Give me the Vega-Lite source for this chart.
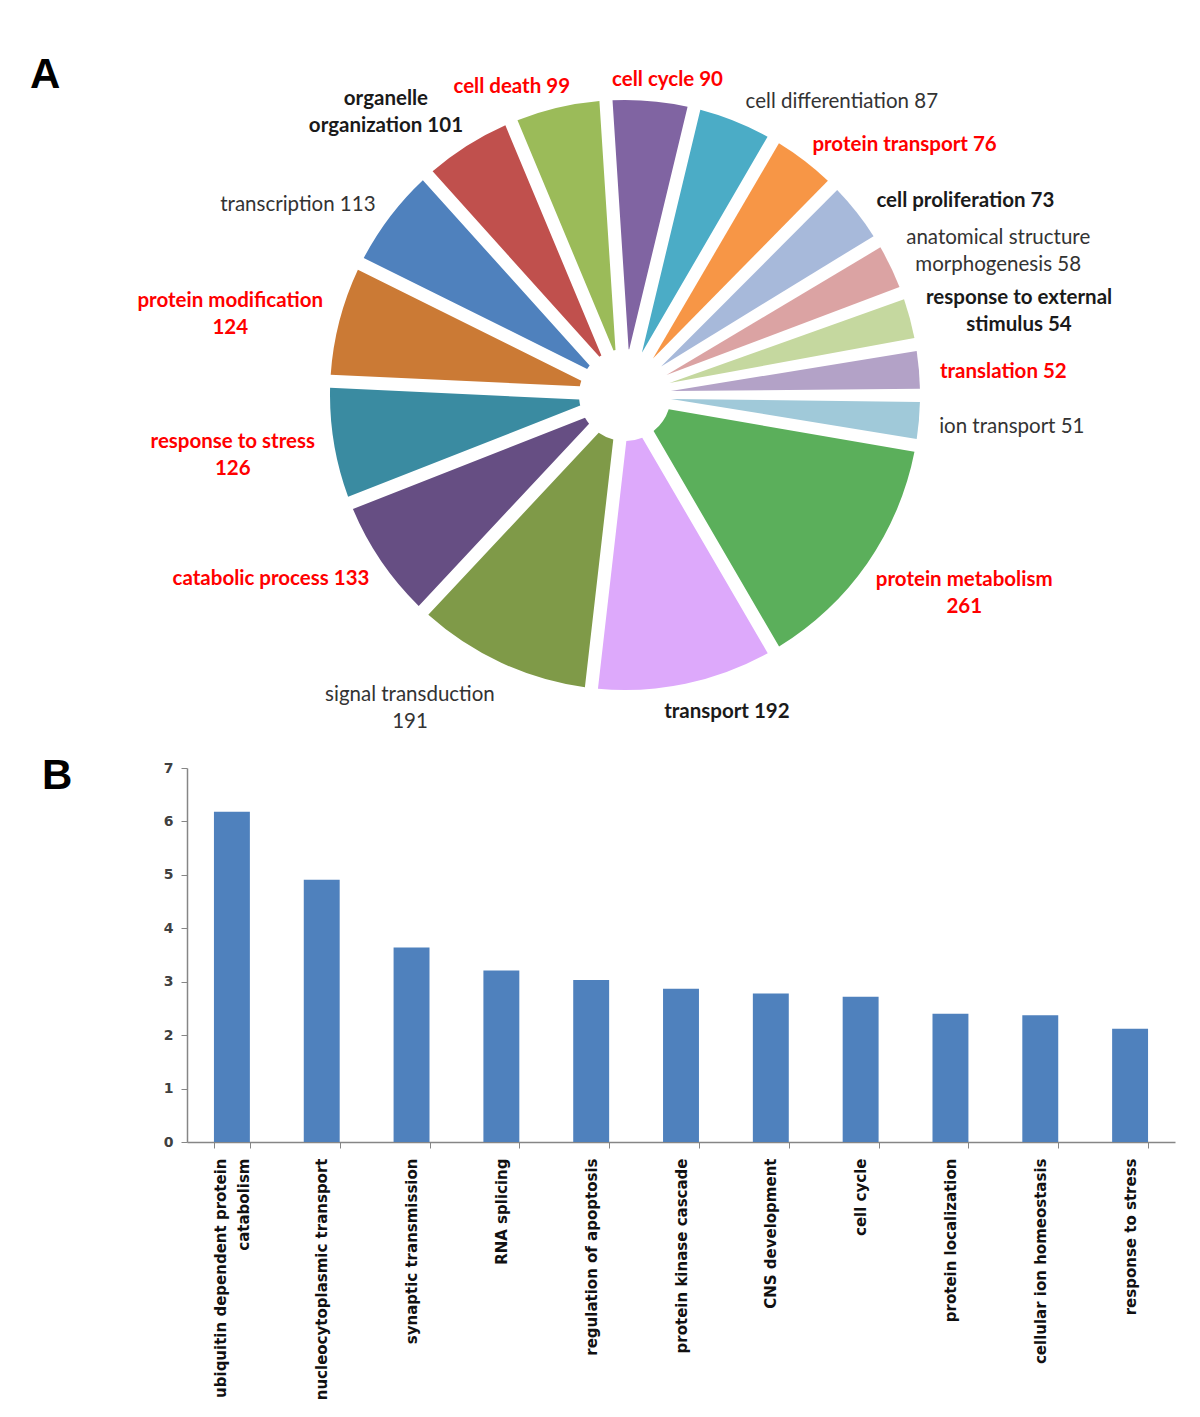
{
  "$schema": "https://vega.github.io/schema/vega-lite/v6.json",
  "background": "white",
  "padding": {"left": 30, "top": 54, "right": 5, "bottom": 5},
  "spacing": 20,
  "config": {"view": {"stroke": null}},
  "datasets": {
    "pie": [
      {"category": "protein metabolism", "count": 261, "label": "protein metabolism\n261", "emphasis": "highlight"},
      {"category": "transport", "count": 192, "label": "transport 192", "emphasis": "bold"},
      {"category": "signal transduction", "count": 191, "label": "signal transduction\n191", "emphasis": "plain"},
      {"category": "catabolic process", "count": 133, "label": "catabolic process 133", "emphasis": "highlight"},
      {"category": "response to stress", "count": 126, "label": "response to stress\n126", "emphasis": "highlight"},
      {"category": "protein modification", "count": 124, "label": "protein modification\n124", "emphasis": "highlight"},
      {"category": "transcription", "count": 113, "label": "transcription 113", "emphasis": "plain"},
      {"category": "organelle organization", "count": 101, "label": "organelle\norganization 101", "emphasis": "bold"},
      {"category": "cell death", "count": 99, "label": "cell death 99", "emphasis": "highlight"},
      {"category": "cell cycle", "count": 90, "label": "cell cycle 90", "emphasis": "highlight"},
      {"category": "cell differentiation", "count": 87, "label": "cell differentiation 87", "emphasis": "plain"},
      {"category": "protein transport", "count": 76, "label": "protein transport 76", "emphasis": "highlight"},
      {"category": "cell proliferation", "count": 73, "label": "cell proliferation 73", "emphasis": "bold"},
      {"category": "anatomical structure morphogenesis", "count": 58, "label": "anatomical structure\nmorphogenesis 58", "emphasis": "plain"},
      {"category": "response to external stimulus", "count": 54, "label": "response to external\nstimulus 54", "emphasis": "bold"},
      {"category": "translation", "count": 52, "label": "translation 52", "emphasis": "highlight"},
      {"category": "ion transport", "count": 51, "label": "ion transport 51", "emphasis": "plain"}
    ],
    "bars": [
      {"process": "ubiquitin dependent protein catabolism", "value": 6.18},
      {"process": "nucleocytoplasmic transport", "value": 4.91},
      {"process": "synaptic transmission", "value": 3.64},
      {"process": "RNA splicing", "value": 3.21},
      {"process": "regulation of apoptosis", "value": 3.03},
      {"process": "protein kinase cascade", "value": 2.87},
      {"process": "CNS development", "value": 2.78},
      {"process": "cell cycle", "value": 2.72},
      {"process": "protein localization", "value": 2.4},
      {"process": "cellular ion homeostasis", "value": 2.37},
      {"process": "response to stress", "value": 2.12}
    ]
  },
  "vconcat": [
    {
      "width": 876,
      "height": 680,
      "title": {"text": "A", "anchor": "start", "frame": "group", "fontSize": 42, "fontWeight": "bold", "font": "Liberation Sans", "color": "#000000", "dx": -157, "dy": 75, "baseline": "alphabetic", "offset": 0},
      "data": {"name": "pie"},
      "encoding": {
        "theta": {"field": "count", "type": "quantitative", "stack": true, "scale": {"range": [1.7425, 8.0257]}},
        "order": {"field": "count", "type": "quantitative", "sort": "descending"}
      },
      "layer": [
        {
          "mark": {"type": "arc", "outerRadius": 295, "innerRadius": 46, "padAngle": 0.044},
          "encoding": {
            "color": {
              "field": "category", "type": "nominal", "legend": null,
              "scale": {
                "domain": ["protein metabolism", "transport", "signal transduction", "catabolic process", "response to stress", "protein modification", "transcription", "organelle organization", "cell death", "cell cycle", "cell differentiation", "protein transport", "cell proliferation", "anatomical structure morphogenesis", "response to external stimulus", "translation", "ion transport"],
                "range": ["#5BAF5B", "#DDA9FB", "#7F9A48", "#664E83", "#3A8BA1", "#CB7A35", "#4F81BD", "#C0504D", "#9BBB59", "#8064A2", "#4BACC6", "#F79646", "#A7B9DA", "#DBA3A3", "#C5D89F", "#B3A2C7", "#A0C9D9"]
              }
            }
          }
        },
        {
          "transform": [{"joinaggregate": [{"op": "sum", "field": "count", "as": "total"}]}],
          "mark": {
            "type": "text", "radius": 320, "font": "Lato", "fontSize": 20.5, "lineBreak": "\n", "lineHeight": 27,
            "align": "center", "baseline": "middle",
            "dx": {"expr": "clamp(3.2*sin(1.7425 + PI*(datum.count_start + datum.count_end)/datum.total), -1, 1) * (indexof(datum.label, '\\n') >= 0 ? max(indexof(datum.label, '\\n'), length(datum.label) - indexof(datum.label, '\\n') - 1) : length(datum.label)) * 4.25"},
            "dy": {"expr": "indexof(datum.label, '\\n') >= 0 ? -9 - 20*cos(1.7425 + PI*(datum.count_start + datum.count_end)/datum.total) : 4"},
            "fontWeight": {"expr": "datum.emphasis == 'plain' ? 'normal' : 'bold'"}
          },
          "encoding": {
            "text": {"field": "label", "type": "nominal"},
            "color": {"field": "emphasis", "type": "nominal", "legend": null, "scale": {"domain": ["highlight", "bold", "plain"], "range": ["#FF0000", "#1A1A1A", "#333333"]}}
          }
        }
      ],
      "resolve": {"scale": {"color": "independent"}}
    },
    {
      "width": 988,
      "height": 374,
      "title": {"text": "B", "anchor": "start", "frame": "group", "fontSize": 42, "fontWeight": "bold", "font": "Liberation Sans", "color": "#000000", "dx": -145, "dy": 70, "baseline": "alphabetic", "offset": 0},
      "data": {"name": "bars"},
      "mark": {"type": "bar", "color": "#4F81BD"},
      "encoding": {
        "x": {
          "field": "process", "type": "nominal", "sort": null,
          "scale": {"paddingInner": 0.6, "paddingOuter": 0.3},
          "axis": {
            "title": null, "labelAngle": -90, "labelFont": "DejaVu Sans", "labelFontWeight": "bold", "labelFontSize": 15, "labelColor": "#111111",
            "labelPadding": 10, "labelLimit": 0, "labelLineHeight": 23,
            "labelOffset": {"condition": {"test": "datum.value == 'ubiquitin dependent protein catabolism'", "value": -11}, "value": 0},
            "labelExpr": "datum.label == 'ubiquitin dependent protein catabolism' ? ['ubiquitin dependent protein', 'catabolism'] : datum.label",
            "tickBand": "extent", "tickSize": 6, "tickColor": "#868686", "domainColor": "#868686", "domainWidth": 1.5
          }
        },
        "y": {
          "field": "value", "type": "quantitative",
          "scale": {"domain": [0, 7], "nice": false},
          "axis": {"title": null, "values": [0, 1, 2, 3, 4, 5, 6, 7], "grid": false, "labelFont": "DejaVu Sans", "labelFontSize": 14, "labelFontWeight": "bold", "labelColor": "#404040", "labelPadding": 8, "tickColor": "#868686", "tickSize": 6, "domainColor": "#868686", "domainWidth": 1.5}
        }
      }
    }
  ]
}
